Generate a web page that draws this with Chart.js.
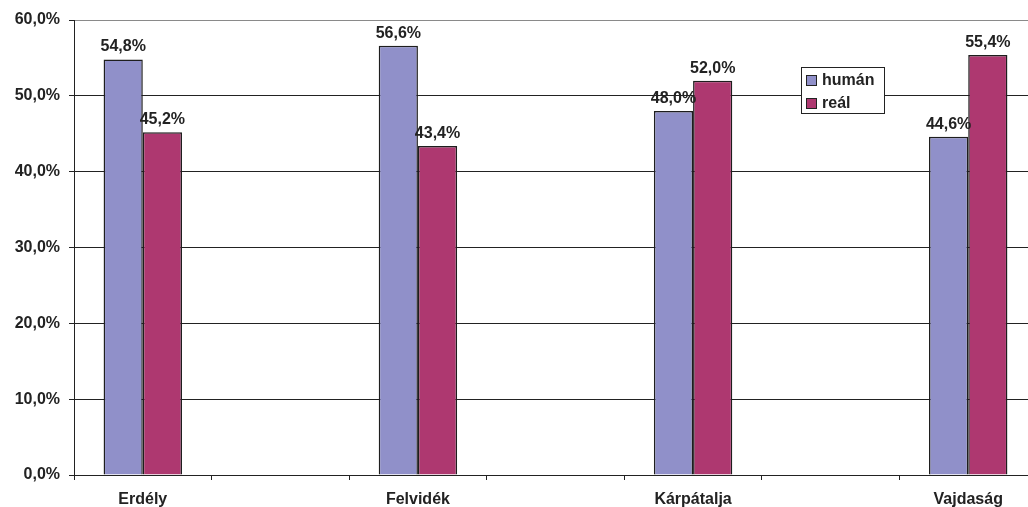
<!DOCTYPE html>
<html>
<head>
<meta charset="utf-8">
<script src="https://cdn.jsdelivr.net/npm/chart.js@4/dist/chart.umd.min.js"></script>
<style>
html,body{margin:0;padding:0;background:#fff;overflow:hidden;width:1028px;height:507px;}
#wrap{position:relative;width:1037px;height:507px;}
</style>
</head>
<body>
<div id="wrap"><canvas id="c" width="1037" height="507"></canvas></div>
<script>
const categories = ['Erdély', '', 'Felvidék', '', 'Kárpátalja', '', 'Vajdaság'];
const humanValues = [54.8, null, 56.6, null, 48.0, null, 44.6];
const realValues  = [45.2, null, 43.4, null, 52.0, null, 55.4];
const seriesNames = ['humán', 'reál'];
const seriesColors = ['#9090C9', '#AE3870'];
const yTicks = [0, 10, 20, 30, 40, 50, 60];

const FONT = "'Liberation Sans', Arial, sans-serif";
const fmt = v => v.toFixed(1).replace('.', ',') + '%';

const labelPlugin = {
  id: 'valueLabels',
  afterDatasetsDraw(chart) {
    const ctx = chart.ctx;
    ctx.save();
    ctx.font = 'bold 16px ' + FONT;
    ctx.fillStyle = '#222';
    ctx.textAlign = 'center';
    ctx.textBaseline = 'alphabetic';
    chart.data.datasets.forEach((ds, di) => {
      const meta = chart.getDatasetMeta(di);
      meta.data.forEach((bar, i) => {
        const v = ds.data[i];
        if (v == null) return;
        ctx.fillText(fmt(v), bar.x, bar.y - 8);
      });
    });
    ctx.restore();
  }
};

const legendPlugin = {
  id: 'boxLegend',
  afterDraw(chart) {
    const ctx = chart.ctx;
    ctx.save();
    const x = 801, y = 67, w = 83, h = 46;
    ctx.fillStyle = '#fff';
    ctx.fillRect(x, y, w, h);
    ctx.strokeStyle = '#222';
    ctx.lineWidth = 1;
    ctx.strokeRect(x + 0.5, y + 0.5, w, h);
    ctx.font = 'bold 16px ' + FONT;
    ctx.textBaseline = 'middle';
    ctx.textAlign = 'left';
    chart.data.datasets.forEach((ds, i) => {
      const cy = y + 13 + i * 23;
      ctx.fillStyle = ds.backgroundColor;
      ctx.fillRect(806, cy - 5, 10, 10);
      ctx.strokeStyle = '#222';
      ctx.strokeRect(806.5, cy - 4.5, 10, 10);
      ctx.fillStyle = '#222';
      ctx.fillText(ds.label, 822, cy + 1);
    });
    ctx.restore();
  }
};

new Chart(document.getElementById('c'), {
  type: 'bar',
  data: {
    labels: categories,
    datasets: [
      { label: seriesNames[0], data: humanValues, backgroundColor: seriesColors[0], borderColor: '#1e1e1e', borderWidth: 1.5, borderSkipped: 'bottom' },
      { label: seriesNames[1], data: realValues, backgroundColor: seriesColors[1], borderColor: '#1e1e1e', borderWidth: 1.5, borderSkipped: 'bottom' }
    ]
  },
  options: {
    responsive: false,
    animation: false,
    events: [],
    layout: { padding: { top: 20, left: 0, right: 0, bottom: 0 } },
    datasets: { bar: { categoryPercentage: 0.57, barPercentage: 1.0, skipNull: false } },
    plugins: { legend: { display: false }, tooltip: { enabled: false } },
    scales: {
      x: {
        offset: true,
        grid: { display: true, drawOnChartArea: false, offset: true, tickLength: 5, color: '#222', tickColor: '#222' },
        border: { display: true, color: '#222', width: 1 },
        ticks: { color: '#222', font: { family: FONT, size: 16, weight: 'bold' }, padding: 10, maxRotation: 0, autoSkip: false },
        afterFit: s => { s.height = 32; }
      },
      y: {
        min: 0, max: 60,
        afterBuildTicks: s => { s.ticks = yTicks.map(v => ({ value: v })); },
        grid: {
          color: c => (c.tick && c.tick.value === 60) ? '#8a8a8a' : '#222',
          tickColor: '#222', tickLength: 5
        },
        border: { display: true, color: '#222', width: 1 },
        ticks: { color: '#222', font: { family: FONT, size: 16, weight: 'bold' }, padding: 9, callback: v => fmt(v) },
        afterFit: s => { s.width = 74; }
      }
    }
  },
  plugins: [labelPlugin, legendPlugin]
});
</script>
</body>
</html>
